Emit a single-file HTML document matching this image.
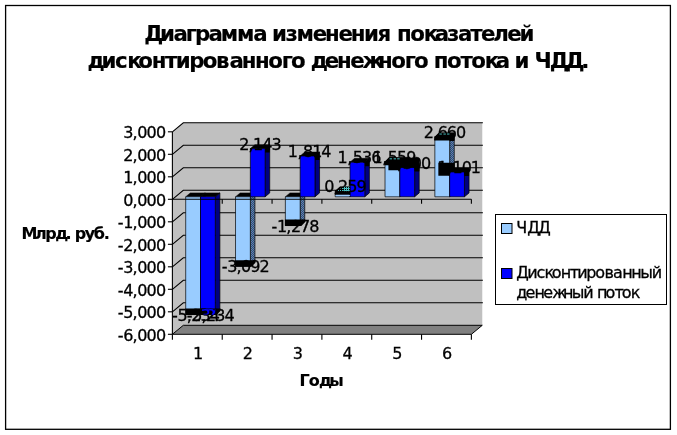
<!DOCTYPE html>
<html lang="ru"><head><meta charset="utf-8"><title>Диаграмма</title>
<style>
html,body{margin:0;padding:0;background:#fff;}
body{width:677px;height:435px;overflow:hidden;}
svg{display:block;}
text{font-family:"DejaVu Sans","Liberation Sans",sans-serif;fill:#000;stroke:#000;stroke-width:0.3px;}
.b{font-weight:bold;stroke-width:0.15px;}
</style></head><body>
<svg width="677" height="435" viewBox="0 0 677 435">
<defs>
<pattern id="hatch" width="2" height="2" patternUnits="userSpaceOnUse">
<rect width="2" height="2" fill="#246868"/><rect width="1" height="1" fill="#6c66bc"/><rect x="1" y="1" width="1" height="1" fill="#6c66bc"/>
</pattern>
<pattern id="cyan" width="2" height="2" patternUnits="userSpaceOnUse">
<rect width="2" height="2" fill="#000"/><rect width="1" height="1" fill="#4bb"/>
</pattern>
<pattern id="cyan2" width="2" height="2" patternUnits="userSpaceOnUse">
<rect width="2" height="2" fill="#4bb"/><rect x="1" y="1" width="1" height="1" fill="#000"/>
</pattern>
</defs>
<rect width="677" height="435" fill="#fff"/>
<rect x="5.6" y="5.5" width="664.8" height="423.8" fill="none" stroke="#000" stroke-width="1.3"/>

<polygon points="172.40,131.80 183.30,122.80 482.28,122.80 482.28,325.30 183.30,325.30 172.40,334.30" fill="#c0c0c0"/>
<polygon points="172.40,334.30 183.30,325.30 482.28,325.30 471.38,334.30" fill="#808080" stroke="#000" stroke-width="1" stroke-linejoin="round"/>
<polyline points="172.40,311.80 183.30,302.80 482.88,302.80" fill="none" stroke="#000" stroke-width="1.1"/>
<polyline points="172.40,289.30 183.30,280.30 482.88,280.30" fill="none" stroke="#000" stroke-width="1.1"/>
<polyline points="172.40,266.80 183.30,257.80 482.88,257.80" fill="none" stroke="#000" stroke-width="1.1"/>
<polyline points="172.40,244.30 183.30,235.30 482.88,235.30" fill="none" stroke="#000" stroke-width="1.1"/>
<polyline points="172.40,221.80 183.30,212.80 482.88,212.80" fill="none" stroke="#000" stroke-width="1.1"/>
<polyline points="172.40,199.30 183.30,190.30 482.88,190.30" fill="none" stroke="#000" stroke-width="1.1"/>
<polyline points="172.40,176.80 183.30,167.80 482.88,167.80" fill="none" stroke="#000" stroke-width="1.1"/>
<polyline points="172.40,154.30 183.30,145.30 482.88,145.30" fill="none" stroke="#000" stroke-width="1.1"/>
<polyline points="172.40,131.80 183.30,122.80 482.88,122.80" fill="none" stroke="#000" stroke-width="1.1"/>
<line x1="172.40" y1="131.80" x2="172.40" y2="334.30" stroke="#000" stroke-width="1.1"/>
<line x1="167.90" y1="334.30" x2="172.40" y2="334.30" stroke="#000" stroke-width="1.1"/>
<line x1="167.90" y1="311.80" x2="172.40" y2="311.80" stroke="#000" stroke-width="1.1"/>
<line x1="167.90" y1="289.30" x2="172.40" y2="289.30" stroke="#000" stroke-width="1.1"/>
<line x1="167.90" y1="266.80" x2="172.40" y2="266.80" stroke="#000" stroke-width="1.1"/>
<line x1="167.90" y1="244.30" x2="172.40" y2="244.30" stroke="#000" stroke-width="1.1"/>
<line x1="167.90" y1="221.80" x2="172.40" y2="221.80" stroke="#000" stroke-width="1.1"/>
<line x1="167.90" y1="199.30" x2="172.40" y2="199.30" stroke="#000" stroke-width="1.1"/>
<line x1="167.90" y1="176.80" x2="172.40" y2="176.80" stroke="#000" stroke-width="1.1"/>
<line x1="167.90" y1="154.30" x2="172.40" y2="154.30" stroke="#000" stroke-width="1.1"/>
<line x1="167.90" y1="131.80" x2="172.40" y2="131.80" stroke="#000" stroke-width="1.1"/>
<line x1="172.40" y1="334.30" x2="172.40" y2="339.80" stroke="#000" stroke-width="1.1"/>
<line x1="222.23" y1="334.30" x2="222.23" y2="339.80" stroke="#000" stroke-width="1.1"/>
<line x1="272.06" y1="334.30" x2="272.06" y2="339.80" stroke="#000" stroke-width="1.1"/>
<line x1="321.89" y1="334.30" x2="321.89" y2="339.80" stroke="#000" stroke-width="1.1"/>
<line x1="371.72" y1="334.30" x2="371.72" y2="339.80" stroke="#000" stroke-width="1.1"/>
<line x1="421.55" y1="334.30" x2="421.55" y2="339.80" stroke="#000" stroke-width="1.1"/>
<line x1="471.38" y1="334.30" x2="471.38" y2="339.80" stroke="#000" stroke-width="1.1"/>
<polygon points="200.50,196.80 205.10,192.90 205.10,310.67 200.50,314.56" fill="url(#hatch)" stroke="#000" stroke-width="0.7" stroke-linejoin="round"/>
<polygon points="185.70,196.80 200.50,196.80 205.10,192.90 190.30,192.90" fill="#000" stroke="#000" stroke-width="0.5" stroke-linejoin="round"/>
<polygon points="185.70,196.80 200.50,196.80 200.50,314.56 185.70,314.56" fill="#99ccff" stroke="#000" stroke-width="0.7" stroke-linejoin="round"/>
<polygon points="215.30,196.80 219.90,192.90 219.90,310.67 215.30,314.56" fill="#000080" stroke="#000" stroke-width="0.7" stroke-linejoin="round"/>
<polygon points="200.50,196.80 215.30,196.80 219.90,192.90 205.10,192.90" fill="#000" stroke="#000" stroke-width="0.5" stroke-linejoin="round"/>
<polygon points="200.50,196.80 215.30,196.80 215.30,314.56 200.50,314.56" fill="#0000ff" stroke="#000" stroke-width="0.7" stroke-linejoin="round"/>
<polygon points="250.33,196.80 254.93,192.90 254.93,262.47 250.33,266.37" fill="url(#hatch)" stroke="#000" stroke-width="0.7" stroke-linejoin="round"/>
<polygon points="235.53,196.80 250.33,196.80 254.93,192.90 240.13,192.90" fill="#000" stroke="#000" stroke-width="0.5" stroke-linejoin="round"/>
<polygon points="235.53,196.80 250.33,196.80 250.33,266.37 235.53,266.37" fill="#99ccff" stroke="#000" stroke-width="0.7" stroke-linejoin="round"/>
<polygon points="265.13,148.58 269.73,144.68 269.73,192.90 265.13,196.80" fill="#000080" stroke="#000" stroke-width="0.7" stroke-linejoin="round"/>
<polygon points="250.33,148.58 265.13,148.58 269.73,144.68 254.93,144.68" fill="#000" stroke="#000" stroke-width="0.5" stroke-linejoin="round"/>
<polygon points="250.33,148.58 265.13,148.58 265.13,196.80 250.33,196.80" fill="#0000ff" stroke="#000" stroke-width="0.7" stroke-linejoin="round"/>
<polygon points="265.13,148.58 269.73,144.68 269.73,152.58 265.13,152.58" fill="#000"/>
<polygon points="300.16,196.80 304.76,192.90 304.76,221.66 300.16,225.56" fill="url(#hatch)" stroke="#000" stroke-width="0.7" stroke-linejoin="round"/>
<polygon points="285.36,196.80 300.16,196.80 304.76,192.90 289.96,192.90" fill="#000" stroke="#000" stroke-width="0.5" stroke-linejoin="round"/>
<polygon points="285.36,196.80 300.16,196.80 300.16,225.56 285.36,225.56" fill="#99ccff" stroke="#000" stroke-width="0.7" stroke-linejoin="round"/>
<polygon points="314.96,155.99 319.56,152.09 319.56,192.90 314.96,196.80" fill="#000080" stroke="#000" stroke-width="0.7" stroke-linejoin="round"/>
<polygon points="300.16,155.99 314.96,155.99 319.56,152.09 304.76,152.09" fill="#000" stroke="#000" stroke-width="0.5" stroke-linejoin="round"/>
<polygon points="300.16,155.99 314.96,155.99 314.96,196.80 300.16,196.80" fill="#0000ff" stroke="#000" stroke-width="0.7" stroke-linejoin="round"/>
<polygon points="314.96,155.99 319.56,152.09 319.56,159.99 314.96,159.99" fill="#000"/>
<polygon points="349.99,190.97 354.59,187.07 354.59,192.90 349.99,196.80" fill="url(#hatch)" stroke="#000" stroke-width="0.7" stroke-linejoin="round"/>
<polygon points="335.19,190.97 349.99,190.97 354.59,187.07 339.79,187.07" fill="#000" stroke="#000" stroke-width="0.5" stroke-linejoin="round"/>
<polygon points="335.19,190.97 349.99,190.97 349.99,196.80 335.19,196.80" fill="#99ccff" stroke="#000" stroke-width="0.7" stroke-linejoin="round"/>
<polygon points="349.99,190.97 354.59,187.07 354.59,194.97 349.99,194.97" fill="#000"/>
<polygon points="364.79,162.24 369.39,158.34 369.39,192.90 364.79,196.80" fill="#000080" stroke="#000" stroke-width="0.7" stroke-linejoin="round"/>
<polygon points="349.99,162.24 364.79,162.24 369.39,158.34 354.59,158.34" fill="#000" stroke="#000" stroke-width="0.5" stroke-linejoin="round"/>
<polygon points="349.99,162.24 364.79,162.24 364.79,196.80 349.99,196.80" fill="#0000ff" stroke="#000" stroke-width="0.7" stroke-linejoin="round"/>
<polygon points="364.79,162.24 369.39,158.34 369.39,166.24 364.79,166.24" fill="#000"/>
<polygon points="399.82,161.72 404.42,157.82 404.42,192.90 399.82,196.80" fill="url(#hatch)" stroke="#000" stroke-width="0.7" stroke-linejoin="round"/>
<polygon points="385.02,161.72 399.82,161.72 404.42,157.82 389.62,157.82" fill="#000" stroke="#000" stroke-width="0.5" stroke-linejoin="round"/>
<polygon points="385.02,161.72 399.82,161.72 399.82,196.80 385.02,196.80" fill="#99ccff" stroke="#000" stroke-width="0.7" stroke-linejoin="round"/>
<polygon points="399.82,161.72 404.42,157.82 404.42,165.72 399.82,165.72" fill="#000"/>
<polygon points="414.62,167.55 419.22,163.65 419.22,192.90 414.62,196.80" fill="#000080" stroke="#000" stroke-width="0.7" stroke-linejoin="round"/>
<polygon points="399.82,167.55 414.62,167.55 419.22,163.65 404.42,163.65" fill="#000" stroke="#000" stroke-width="0.5" stroke-linejoin="round"/>
<polygon points="399.82,167.55 414.62,167.55 414.62,196.80 399.82,196.80" fill="#0000ff" stroke="#000" stroke-width="0.7" stroke-linejoin="round"/>
<polygon points="414.62,167.55 419.22,163.65 419.22,171.55 414.62,171.55" fill="#000"/>
<polygon points="449.65,136.95 454.25,133.05 454.25,192.90 449.65,196.80" fill="url(#hatch)" stroke="#000" stroke-width="0.7" stroke-linejoin="round"/>
<polygon points="434.85,136.95 449.65,136.95 454.25,133.05 439.45,133.05" fill="#000" stroke="#000" stroke-width="0.5" stroke-linejoin="round"/>
<polygon points="434.85,136.95 449.65,136.95 449.65,196.80 434.85,196.80" fill="#99ccff" stroke="#000" stroke-width="0.7" stroke-linejoin="round"/>
<polygon points="449.65,136.95 454.25,133.05 454.25,140.95 449.65,140.95" fill="#000"/>
<polygon points="464.45,172.03 469.05,168.13 469.05,192.90 464.45,196.80" fill="#000080" stroke="#000" stroke-width="0.7" stroke-linejoin="round"/>
<polygon points="449.65,172.03 464.45,172.03 469.05,168.13 454.25,168.13" fill="#000" stroke="#000" stroke-width="0.5" stroke-linejoin="round"/>
<polygon points="449.65,172.03 464.45,172.03 464.45,196.80 449.65,196.80" fill="#0000ff" stroke="#000" stroke-width="0.7" stroke-linejoin="round"/>
<polygon points="464.45,172.03 469.05,168.13 469.05,176.03 464.45,176.03" fill="#000"/>
<polygon points="185.30,308.56 205.50,308.56 205.50,310.96 201.70,314.92 185.30,314.92" fill="#000"/>
<polygon points="200.10,308.56 220.30,308.56 220.30,310.96 216.50,314.92 200.10,314.92" fill="#000"/>
<polygon points="235.13,260.37 255.33,260.37 255.33,262.77 251.53,266.72 235.13,266.72" fill="#000"/>
<polygon points="284.96,219.56 305.16,219.56 305.16,221.96 301.36,225.91 284.96,225.91" fill="#000"/>
<clipPath id="c1"><rect x="201.00" y="308.96" width="14.20" height="5.6"/></clipPath>
<polygon points="388.42,158.12 419.22,158.12 419.22,171.05 414.62,171.05 414.62,167.55 399.82,167.55 399.82,170.15 388.42,170.15" fill="#000"/>
<polygon points="438.35,162.83 454.85,162.83 454.85,168.03 469.05,168.03 469.05,175.73 464.45,175.73 464.45,172.03 449.65,172.03 449.65,175.63 438.35,175.63" fill="#000"/>
<polygon points="384.72,161.72 389.02,157.32 404.72,157.32 404.72,165.32 384.72,165.32" fill="#000"/>
<polygon points="434.55,136.95 438.85,132.55 454.55,132.55 454.55,140.55 434.55,140.55" fill="#000"/>
<polygon points="334.99,191.97 340.19,186.47 350.39,186.47 350.39,194.87 334.99,194.87" fill="#000"/>
<line x1="335.69" y1="195.47" x2="349.99" y2="195.47" stroke="#99ccff" stroke-width="0.9"/>
<line x1="172.40" y1="199.30" x2="471.38" y2="199.30" stroke="#000" stroke-width="1.1"/>
<line x1="222.23" y1="199.30" x2="222.23" y2="203.80" stroke="#000" stroke-width="1.1"/>
<line x1="272.06" y1="199.30" x2="272.06" y2="203.80" stroke="#000" stroke-width="1.1"/>
<line x1="321.89" y1="199.30" x2="321.89" y2="203.80" stroke="#000" stroke-width="1.1"/>
<line x1="371.72" y1="199.30" x2="371.72" y2="203.80" stroke="#000" stroke-width="1.1"/>
<line x1="421.55" y1="199.30" x2="421.55" y2="203.80" stroke="#000" stroke-width="1.1"/>
<line x1="471.38" y1="199.30" x2="471.38" y2="203.80" stroke="#000" stroke-width="1.1"/>
<text x="171.92 177.44 186.65 191.25 200.46 209.67" y="320.56" font-size="16">-5,234</text>
<text x="186.72 192.24 201.45 206.05 215.26 224.47" y="320.56" font-size="16">-5,234</text>
<text x="221.75 227.27 236.48 241.08 250.29 259.50" y="272.37" font-size="16">-3,092</text>
<text x="239.31 248.52 253.12 262.33 271.54" y="149.58" font-size="16">2,143</text>
<text x="271.58 277.10 286.31 290.91 300.12 309.33" y="231.56" font-size="16">-1,278</text>
<text x="287.64 297.45 302.95 312.16 321.37" y="156.99" font-size="16">1,814</text>
<text x="324.17 333.38 337.98 347.19 356.40" y="191.97" font-size="16">0,259</text>
<text x="337.47 347.28 352.78 361.99 371.20" y="163.24" font-size="16">1,536</text>
<text x="372.50 382.31 387.81 397.02 406.23" y="162.72" font-size="16">1,559</text>
<text x="387.30 397.11 402.61 411.82 421.03" y="168.55" font-size="16">1,300</text>
<text x="423.83 433.04 437.64 446.85 456.06" y="137.95" font-size="16">2,660</text>
<text x="437.13 446.94 452.44 461.65 470.86" y="173.03" font-size="16">1,101</text>
<text x="171.92 177.44 186.65 191.25 200.46 209.67" y="320.56" font-size="16" style="fill:#0000ff;stroke:#0000ff" clip-path="url(#c1)">-5,234</text>
<text x="186.72 192.24 201.45 206.05 215.26 224.47" y="320.56" font-size="16" style="fill:#0000ff;stroke:#0000ff" clip-path="url(#c1)">-5,234</text>
<rect x="389.62" y="158.32" width="2.4" height="1" fill="#4bb"/>
<rect x="393.62" y="158.32" width="2.4" height="1" fill="#4bb"/>
<rect x="397.22" y="158.32" width="2.4" height="1" fill="#4bb"/>
<rect x="439.45" y="133.55" width="2.4" height="1" fill="#4bb"/>
<rect x="443.45" y="133.55" width="2.4" height="1" fill="#4bb"/>
<rect x="447.05" y="133.55" width="2.4" height="1" fill="#4bb"/>
<polygon points="343.19,186.87 349.69,186.87 349.69,191.17 343.19,191.17" fill="url(#cyan2)"/>
<polygon points="336.69,191.17 343.19,186.87 343.19,191.17" fill="url(#cyan)"/>
<text x="117.66 123.26 132.60 137.27 146.61 155.96" y="340.50" font-size="16">-6,000</text>
<text x="117.66 123.26 132.60 137.27 146.61 155.96" y="318.00" font-size="16">-5,000</text>
<text x="117.66 123.26 132.60 137.27 146.61 155.96" y="295.50" font-size="16">-4,000</text>
<text x="117.66 123.26 132.60 137.27 146.61 155.96" y="273.00" font-size="16">-3,000</text>
<text x="117.66 123.26 132.60 137.27 146.61 155.96" y="250.50" font-size="16">-2,000</text>
<text x="117.66 123.26 132.60 137.27 146.61 155.96" y="228.00" font-size="16">-1,000</text>
<text x="123.26 132.60 137.27 146.61 155.96" y="205.50" font-size="16">0,000</text>
<text x="123.26 132.60 137.27 146.61 155.96" y="183.00" font-size="16">1,000</text>
<text x="123.26 132.60 137.27 146.61 155.96" y="160.50" font-size="16">2,000</text>
<text x="123.26 132.60 137.27 146.61 155.96" y="138.00" font-size="16">3,000</text>
<text x="192.97" y="358.70" font-size="16">1</text>
<text x="242.80" y="358.70" font-size="16">2</text>
<text x="292.63" y="358.70" font-size="16">3</text>
<text x="342.46" y="358.70" font-size="16">4</text>
<text x="392.29" y="358.70" font-size="16">5</text>
<text x="442.12" y="358.70" font-size="16">6</text>
<text x="144.30 160.00 173.54 185.80 194.97 208.43 220.69 236.99 253.29 265.54 272.06 285.61 296.56 312.86 325.11 338.42 350.68 363.99 377.53 390.39 396.91 410.22 423.68 434.71 446.96 457.91 470.17 480.96 493.21 507.21 519.46" y="40.80" font-size="21.33" class="b">Диаграмма изменения показателей</text>
<text x="87.60 101.55 115.05 127.27 138.27 151.69 164.96 175.72 189.22 202.64 216.06 229.57 241.79 255.06 268.33 281.75 290.90 304.32 310.82 324.77 336.99 350.26 362.48 378.05 391.32 404.74 413.89 427.31 433.82 447.09 460.51 471.27 484.69 495.68 507.90 514.41 527.91 534.42 549.85 565.50 581.16" y="68.10" font-size="21.33" class="b">дисконтированного денежного потока и ЧДД.</text>
<text x="21.50 34.99 45.27 55.16 65.44 69.94 74.84 84.73 93.74 103.74" y="238.70" font-size="16" class="b">Млрд. руб.</text>
<text x="299.50 308.84 318.91 329.37" y="385.70" font-size="16" class="b">Годы</text>
<rect x="495.5" y="214.5" width="171" height="90" fill="#fff" stroke="#000" stroke-width="1"/>
<rect x="501.5" y="223.5" width="10.5" height="10" fill="#99ccff" stroke="#000" stroke-width="1"/>
<rect x="501.5" y="268.5" width="10.5" height="10" fill="#0000ff" stroke="#000" stroke-width="1"/>
<text x="516.30 527.18 538.23" y="233.20" font-size="16">ЧДД</text>
<text x="516.30 527.33 536.43 544.57 551.70 560.76 569.75 577.21 586.31 595.37 604.43 613.08 622.14 631.14 640.13 651.84" y="277.80" font-size="16">Дисконтированный</text>
<text x="516.30 525.62 534.50 543.32 552.20 562.88 571.70 583.17 592.09 596.93 605.58 614.46 621.77 630.65" y="298.10" font-size="16">денежный поток</text>
</svg></body></html>
